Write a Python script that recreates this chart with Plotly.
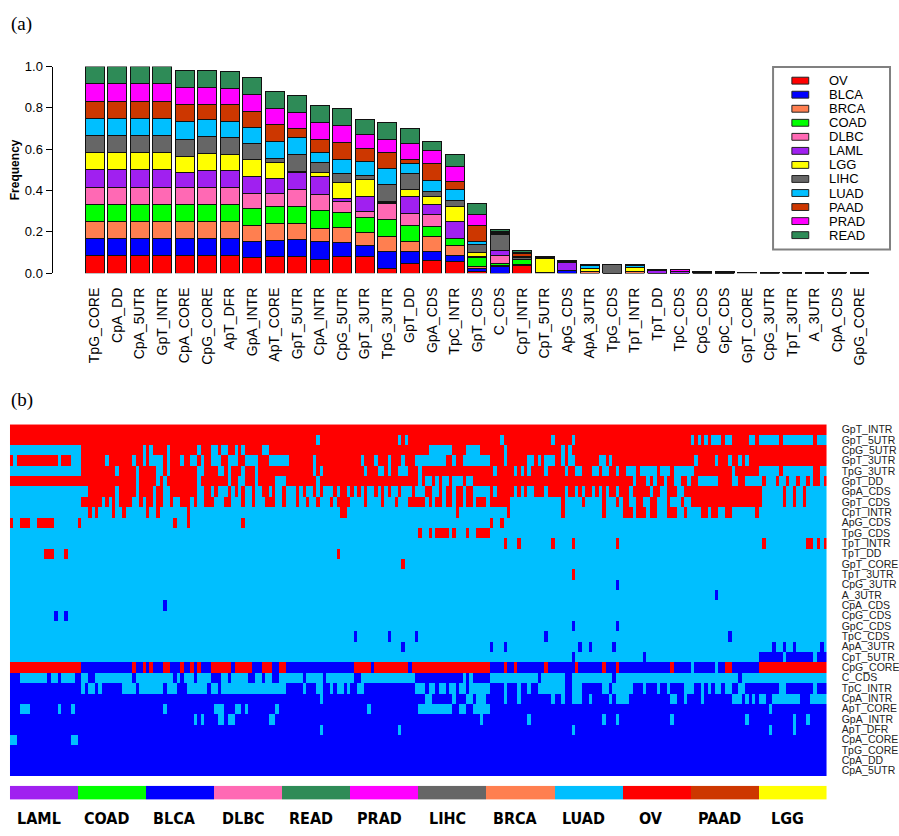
import plotly.graph_objects as go

W, H = 899, 836


def fx(p):
    return p / W


def fy(p):
    return 1 - p / H


# ---------------- panel (a): stacked bars ----------------
features = ["TpG_CORE", "CpA_DD", "CpA_5UTR", "GpT_INTR", "CpA_CORE", "CpG_CORE", "ApT_DFR",
            "GpA_INTR", "ApT_CORE", "GpT_5UTR", "CpA_INTR", "CpG_5UTR", "GpT_3UTR", "TpG_3UTR",
            "GpT_DD", "GpA_CDS", "TpC_INTR", "GpT_CDS", "C_CDS", "CpT_INTR", "CpT_5UTR", "ApG_CDS",
            "ApA_3UTR", "TpG_CDS", "TpT_INTR", "TpT_DD", "TpC_CDS", "CpG_CDS", "GpC_CDS", "GpT_CORE",
            "CpG_3UTR", "TpT_3UTR", "A_3UTR", "CpA_CDS", "GpG_CORE"]

cancers = ["OV", "BLCA", "BRCA", "COAD", "DLBC", "LAML", "LGG", "LIHC", "LUAD", "PAAD", "PRAD", "READ"]
cancer_colors = ["#FF0000", "#0000FF", "#FF7F50", "#00FF00", "#FF69B4", "#A020F0", "#FFFF00",
                 "#666666", "#00BFFF", "#CD3700", "#FF00FF", "#2E8B57"]

F = 0.0833
ov   = [F, F, F, F, .083, .083, .083, .076, .081, .081, .068, .081, .081, .024, .048, .060, .055, .008, 0, .036, .002, 0, 0, 0, 0, 0, 0, 0, 0, .002, 0, 0, 0, 0, 0]
blca = [F, F, F, F, .083, .083, .083, .076, .079, .082, .083, .067, .051, .081, .057, .044, .029, .016, .033, .008, .003, .015, 0, 0, 0, 0, 0, 0, 0, 0, 0, 0, 0, 0, 0]
brca = [F, F, F, F, .083, .083, .083, .079, .082, .076, .067, .071, .067, .074, .048, .074, .048, .006, .003, 0, 0, 0, .008, 0, .009, 0, 0, 0, 0, 0, 0, 0, 0, 0, 0]
coad = [F, F, F, F, .083, .083, .083, .082, .083, .083, .083, .076, .071, .079, .079, .048, .036, .045, .012, .022, 0, 0, 0, 0, 0, 0, 0, 0, 0, 0, 0, 0, 0, 0, 0]
dlbc = [F, F, F, F, .083, .083, .083, .073, .062, .081, .082, .051, .029, .079, .055, .060, 0, 0, .035, 0, 0, 0, 0, 0, 0, 0, 0, 0, 0, 0, 0, 0, 0, 0, 0]
laml = [F, F, F, F, .070, .083, .083, .083, .071, .083, .083, .016, .071, .005, .083, .048, .083, .005, .028, 0, 0, .035, 0, 0, 0, .014, .008, .004, 0, 0, 0, 0, 0, 0, 0]
lgg  = [F, F, F, F, .081, .083, .075, .079, .076, .008, .021, .079, .083, .003, .035, .038, .071, .022, 0, 0, .068, 0, .013, 0, .016, 0, 0, 0, 0, 0, .002, .002, 0, 0, 0]
lihc = [F, F, F, F, .083, .083, .083, .078, .019, .082, .051, .040, .022, .082, .079, .025, .030, .036, .075, .008, 0, .005, 0, .040, 0, 0, 0, .003, .001, 0, 0, 0, 0, 0, 0]
luad = [F, F, F, F, .083, .079, .078, .079, .083, .079, .044, .068, .065, .079, .048, .051, .052, .016, .006, .008, 0, 0, .016, 0, .011, 0, 0, 0, .006, 0, 0, 0, 0, 0, 0]
paad = [F, F, F, F, .083, .072, .083, .076, .082, .043, .065, .083, .062, .079, .016, .082, .040, .076, .005, .013, 0, 0, .003, 0, .002, .003, 0, 0, 0, 0, 0, 0, .002, 0, 0]
prad = [F, F, F, F, .083, .083, .079, .082, .081, .078, .083, .083, .071, .060, .079, .063, .071, .055, .005, .006, .003, .003, 0, 0, 0, 0, .009, 0, 0, 0, 0, 0, 0, .002, 0]
read = [F, F, F, F, .083, .083, .081, .083, .082, .082, .083, .082, .073, .083, .074, .044, .059, .054, .008, .007, .003, .002, .003, .002, .004, .003, .003, .003, .003, .002, .002, .002, .002, .002, .002]
series = [ov, blca, brca, coad, dlbc, laml, lgg, lihc, luad, paad, prad, read]

y_ticks = [0.0, 0.2, 0.4, 0.6, 0.8, 1.0]

# ---------------- panel (b): heatmap ----------------
heat_rows = ["GpT_INTR", "GpT_5UTR", "CpG_5UTR", "GpT_3UTR", "TpG_3UTR", "GpT_DD", "GpA_CDS",
             "GpT_CDS", "CpT_INTR", "ApG_CDS", "TpG_CDS", "TpT_INTR", "TpT_DD", "GpT_CORE",
             "TpT_3UTR", "CpG_3UTR", "A_3UTR", "CpA_CDS", "CpG_CDS", "GpC_CDS", "TpC_CDS",
             "ApA_3UTR", "CpT_5UTR", "CpG_CORE", "C_CDS", "TpC_INTR", "CpA_INTR", "ApT_CORE",
             "GpA_INTR", "ApT_DFR", "CpA_CORE", "TpG_CORE", "CpA_DD", "CpA_5UTR"]

group_order = ["LAML", "COAD", "BLCA", "DLBC", "READ", "PRAD", "LIHC", "BRCA", "LUAD", "OV", "PAAD", "LGG"]
samples_per_group = 20

# row patterns: base state | state:sample ranges  (B = blue, L = light blue, R = red)
heat_patterns = [
    "R",
    "R|L:90,114,116,144,159,165,200,202,204,206-208,210-211,217-218,220-225,227-235,237-239",
    "R|L:0-20,39,41,46,55,59-60,62-63,66,68,74-75,123-129,134-137,145,162,164",
    "R|L:1,14,18-20,28,36,39,41-44,46,50,53-54,56,59-61,64-66,69-72,76-81,89,103,107,111,115,119-127,130,133-140,145,152-153,155,157-159,162,164-165,173-174,176,201,207,211,214,216",
    "R|L:0-20,31,37,43-44,46,55-56,61-62,64,68,72,89,91,104,108-109,111,114-116,120,142,148,150,152,157,163,166-167,171-172,174-175,178,181-183,185-189,191-193,195-200,212,220-225,227-235,238-239",
    "R|L:37,43,45,55,64,67-68,72,78-80,90,120,122-123,125,127-128,130-132,134-135,183,187,189,192,195-196,199,202-207,212-213,216-220,222-224,226-227,229-230,232-233,235,238",
    "R|L:0-22,31,37,42,45-46,55-56,59,61-63,65,67,69-70,72-73,76,78-79,81-83,85,87-88,90,92-94,96,99,101,103,105-106,108,110,112-113,115-117,119-121,124-125,127,130,133,136-140,142,148,150,152-153,157,163,166,168,171,173,175,178,182,188,191-192,196-197,221-226,228-229,231-232,234-239",
    "L|R:21-26,28,30,32-35,38,40-41,43-44,47,50-52,54,57-59,63-64,68,71,75-77,80,84,87,90,94,96-99,104,109,113,117-121,123,125-126,128-129,131-132,134-135,137-139,141-146,162,168,174,178,180-181,184-185,188-189,193,197,200-220,227,230,233",
    "L|R:23,25,30,33,40,43,52,97-98,131,146,162,174,180-182,184-186,188-189,193-195,198,203-204,206-207,210-211,219",
    "L|R:0,3-5,8-12,20,48,52,68,141,144",
    "L|R:120,123,125-128,130,134,137-140",
    "L|R:145,149,159,165,178,221,234-235,237,239",
    "L|R:10-12,16,96",
    "L|R:115",
    "L|R:165",
    "L|B:178",
    "L|B:207",
    "L|B:45",
    "L|B:13,16",
    "L|B:165,178",
    "L|B:101,111,119,157,211",
    "L|B:115,141,145,167,170,177,224,227,230,238",
    "L|B:165,186,220-226,228-235,237-239",
    "B|R:0-20,36,39,41,45-46,50,53,55,59-64,66-70,74-76,79-80,101-105,107-116,118-140,145,148,157,166,174,178,194,210-211,220-239|L:200,207",
    "L|B:0-2,11,14,19-20,23-24,36,48,50,54,59-61,64,70-71,74,77-78,86,92,101-102,119-132,134,136-140,155,163-164,177,214",
    "B|L:21,23-24,26,33-36,38-44,46-48,52-57,59-60,62-80,86,90-91,94,96-97,99,102-103,119-121,123-124,126-127,129-130,132-133,135-140,145,149,152,155-162,165-167,174-175,177-182,186,190,193,198-200,203,205,207-208,210-211,214-215,226-227,236",
    "B|L:91,122-123,130,134-135,137-139,145,149,159,162,165-167,170,176,178-181,194-195,198,203,212-214,216,218,220-221,224-231,235-239",
    "B|L:3-5,14,18,45,60-62,66-67,69,78,105,120-129,132-133,136-140,223",
    "B|L:54,56,61-62,64-65,76-77,138,152,174,178,194,216,230,234",
    "B|L:91,114,165,223,230",
    "B|L:0-1,18-19",
    "B",
    "B",
    "B",
]

state_code = {"B": 0, "L": 1, "R": 2}
n_samples = samples_per_group * len(group_order)


def build_row(pattern):
    parts = pattern.split("|")
    row = [state_code[parts[0]]] * n_samples
    for part in parts[1:]:
        st, spec = part.split(":")
        for tok in spec.split(","):
            if "-" in tok:
                a, b = tok.split("-")
            else:
                a = b = tok
            for k in range(int(a), int(b) + 1):
                row[k] = state_code[st]
    return row


z_heat = [build_row(p) for p in heat_patterns]
z_groups = [[gi for gi in range(len(group_order)) for _ in range(samples_per_group)]]
group_colors = [cancer_colors[cancers.index(g)] for g in group_order]

fig = go.Figure()

# ---- bars
for name, vals, col in zip(cancers, series, cancer_colors):
    fig.add_trace(go.Bar(x=features, y=vals, name=name, marker=dict(color=col, line=dict(color="#111111", width=1)),
                         xaxis="x", yaxis="y", showlegend=False))

# ---- heatmap
heat_scale = [[0, "#0000FF"], [0.3333, "#0000FF"], [0.3333, "#00BFFF"], [0.6667, "#00BFFF"],
              [0.6667, "#FF0000"], [1, "#FF0000"]]
fig.add_trace(go.Heatmap(z=z_heat, y=heat_rows, x=list(range(n_samples)), colorscale=heat_scale,
                         zmin=0, zmax=2, showscale=False, xaxis="x2", yaxis="y2", hoverinfo="skip"))

# ---- group colour strip
ng = len(group_order)
grp_scale = []
for i, c in enumerate(group_colors):
    grp_scale.append([i / ng, c])
    grp_scale.append([(i + 1) / ng, c])
fig.add_trace(go.Heatmap(z=z_groups, x=list(range(n_samples)), colorscale=grp_scale, zmin=-0.5, zmax=ng - 0.5,
                         showscale=False, xaxis="x3", yaxis="y3", hoverinfo="skip"))

# layout geometry (pixels)
bar_left, bar_right, bar_top, bar_bot = 53, 878.65, 60.7, 271
pitch = 22.7
hm_left, hm_right, hm_top, hm_bot = 10, 834, 425, 783

annotations = []
shapes = []

# panel labels
annotations.append(dict(text="(a)", x=fx(9), y=fy(17), xref="paper", yref="paper", showarrow=False,
                        xanchor="left", yanchor="middle", font=dict(family="Liberation Serif", size=19, color="black")))
annotations.append(dict(text="(b)", x=fx(9), y=fy(400), xref="paper", yref="paper", showarrow=False,
                        xanchor="left", yanchor="middle", font=dict(family="Liberation Serif", size=19, color="black")))

# manual legend
leg_x0, leg_x1, leg_y0, leg_y1 = 780, 898, 61, 247
shapes.append(dict(type="rect", xref="paper", yref="paper", x0=fx(leg_x0), x1=fx(leg_x1), y0=fy(leg_y1), y1=fy(leg_y0),
                   line=dict(color="#808080", width=2), fillcolor="white", layer="above"))
for i, (name, col) in enumerate(zip(cancers, cancer_colors)):
    cy = 75 + 14.3 * i
    shapes.append(dict(type="rect", xref="paper", yref="paper", x0=fx(799), x1=fx(816), y0=fy(cy + 3.5), y1=fy(cy - 3.5),
                       line=dict(color="#222222", width=1), fillcolor=col, layer="above"))
    annotations.append(dict(text=name, x=fx(834), y=fy(cy), xref="paper", yref="paper", showarrow=False,
                            xanchor="left", yanchor="middle", font=dict(family="Liberation Sans", size=13, color="black")))

# group labels under the colour strip
for i, g in enumerate(group_order):
    annotations.append(dict(text="<b>%s</b>" % g, x=samples_per_group * i + samples_per_group / 2 - 2, y=fy(826),
                            xref="x3", yref="paper", showarrow=False, xanchor="center", yanchor="middle",
                            font=dict(family="DejaVu Sans Condensed, Liberation Sans Narrow, DejaVu Sans", size=16, color="black")))

fig.update_layout(
    width=W, height=H, margin=dict(l=0, r=0, t=0, b=0),
    paper_bgcolor="white", plot_bgcolor="white",
    barmode="stack", bargap=1 - 19 / pitch,
    showlegend=False,
    xaxis=dict(domain=[fx(bar_left), fx(bar_right)], range=[-0.5 - (878.65 - 53 - 35 * pitch) / pitch, 34.5],
               type="category", tickangle=-90, showline=False, showgrid=False, zeroline=False,
               ticks="outside", ticklen=8, tickcolor="rgba(0,0,0,0)",
               tickfont=dict(family="Liberation Sans", size=14, color="black"), anchor="y"),
    yaxis=dict(domain=[fy(bar_bot), fy(bar_top)], range=[0, 1.0], tickvals=y_ticks,
               ticktext=["%.1f" % v for v in y_ticks], showline=True, linecolor="black", linewidth=1,
               ticks="outside", ticklen=6, tickcolor="black", showgrid=False, zeroline=False,
               tickfont=dict(family="Liberation Sans", size=13, color="black"),
               title=dict(text="<b>Frequency</b>", standoff=2, font=dict(family="Liberation Sans", size=12, color="black")),
               anchor="x"),
    xaxis2=dict(domain=[fx(hm_left), fx(hm_right)], range=[-0.5, n_samples - 0.5], visible=False, anchor="y2"),
    yaxis2=dict(domain=[fy(hm_bot), fy(hm_top)], type="category", categoryarray=heat_rows, autorange="reversed",
                tickmode="array", tickvals=heat_rows, ticktext=heat_rows,
                side="right", ticks="outside", ticklen=12, tickcolor="rgba(0,0,0,0)", showgrid=False, zeroline=False,
                showline=False, tickfont=dict(family="Liberation Sans", size=10.5, color="#222222"), anchor="x2"),
    xaxis3=dict(domain=[fx(hm_left), fx(hm_right)], range=[-0.5, n_samples - 0.5], visible=False, anchor="y3"),
    yaxis3=dict(domain=[fy(807), fy(793)], visible=False, anchor="x3"),
    annotations=annotations,
    shapes=shapes,
)

fig.write_html("out.html")
